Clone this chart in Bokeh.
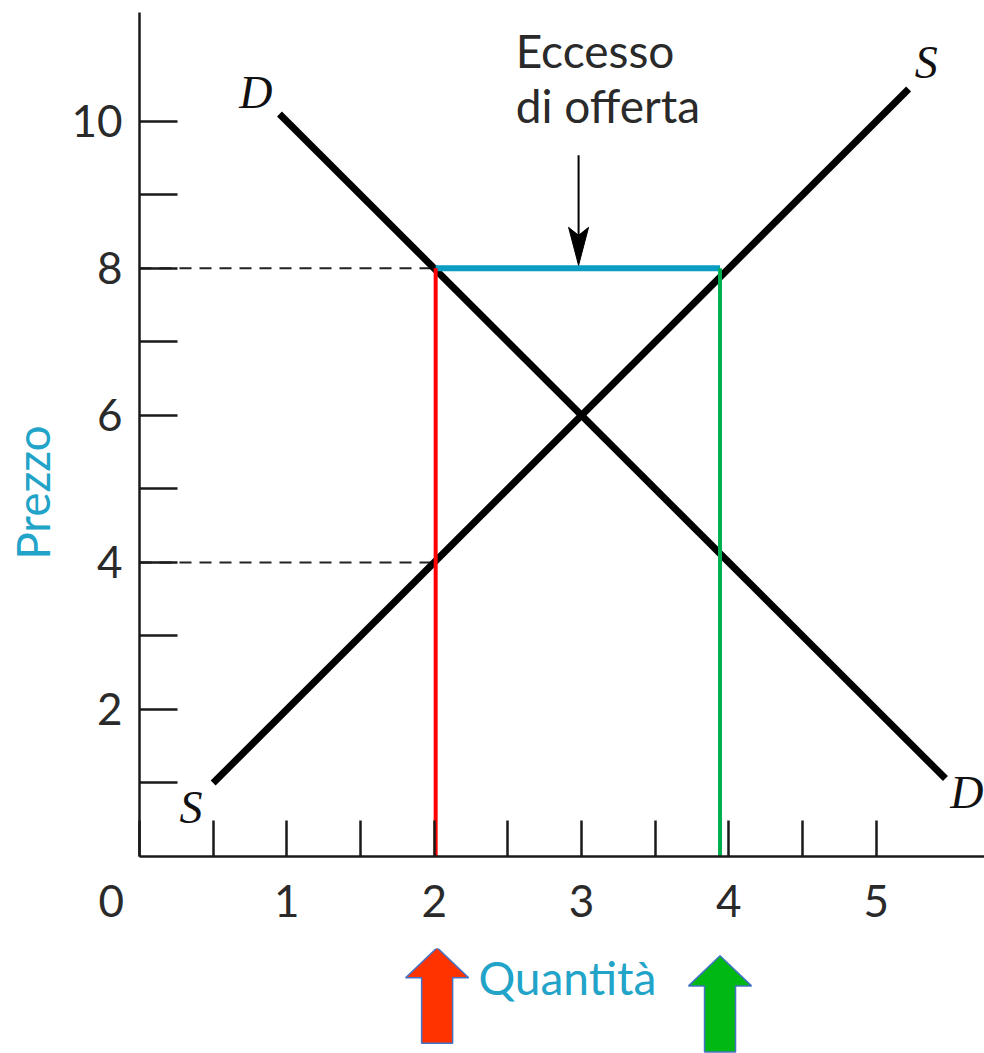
import math
from bokeh.plotting import figure
from bokeh.layouts import column, row
from bokeh.models import FixedTicker, Label, Range1d
from bokeh.core.properties import value
from bokeh.embed import file_html
from bokeh.resources import INLINE

# ---------------- data ----------------
demand_q = [0.95, 5.47]
demand_p = [10.1, 1.06]
supply_q = [0.5, 5.22]
supply_p = [1.0, 10.44]

price_high = 8
price_low = 4
qty_demanded = 2.01     # quantity demanded at price 8
qty_supplied = 3.94     # quantity supplied at price 8
excess_arrow_q = 2.98
excess_arrow_top = 9.54

y_ticks = [1, 2, 3, 4, 5, 6, 7, 8, 9, 10]
y_tick_labels = {1: "", 2: "2", 3: "", 4: "4", 5: "", 6: "6", 7: "", 8: "8", 9: "", 10: "10"}
x_ticks = [0, 0.5, 1, 1.5, 2, 2.5, 3, 3.5, 4, 4.5, 5]
x_tick_labels = {0: "0\u00a0\u00a0\u00a0\u00a0\u00a0", 0.5: "", 1: "1", 1.5: "", 2: "2",
                 2.5: "", 3: "3", 3.5: "", 4: "4", 4.5: "", 5: "5"}

curve_labels = ["D", "S", "S", "D"]
curve_label_q = [0.79, 5.34, 0.35, 5.615]
curve_label_p = [10.39, 10.8, 0.67, 0.87]

# bottom block arrows (centre quantity, tip, head base, bottom)
arrow_q = [2.02, 3.94]
arrow_tip = [-1.24, -1.35]
arrow_neck = [-1.65, -1.76]
arrow_bottom = [-2.54, -2.66]
arrow_colors = ["#FF3300", "#00B814"]

# ---------------- layout ----------------
TOTAL_W, TOTAL_H = 984, 1053
LEFT_W = 60                      # strip holding the y title
W = TOTAL_W - LEFT_W
FRAME_LEFT = 139                 # page x of the y axis
ML = FRAME_LEFT - LEFT_W
MT = 12
FRAME_BOTTOM = 856
MB1 = 92
H1 = FRAME_BOTTOM + MB1
H2 = TOTAL_H - H1
X_END = 5.735
Y_END = 11.48
px_x = (W - ML) / X_END
px_y = (FRAME_BOTTOM - MT) / Y_END

TXT = "#2a2a2a"
TEAL = "#22A3C8"
FONT = "Lato"

p = figure(width=W, height=H1, x_range=Range1d(0, X_END), y_range=Range1d(0, Y_END),
           output_backend="svg", toolbar_location=None,
           min_border_left=ML, min_border_right=0, min_border_top=MT,
           min_border_bottom=MB1)
p.outline_line_color = None
p.xgrid.visible = False
p.ygrid.visible = False

for ax in (p.xaxis[0], p.yaxis[0]):
    ax.axis_line_color = "#1a1a1a"
    ax.axis_line_width = 2.5
    ax.major_tick_line_color = "#1a1a1a"
    ax.major_tick_line_width = 2.5
    ax.minor_tick_line_color = None
    ax.major_tick_out = 0
    ax.major_label_text_font = FONT
    ax.major_label_text_font_size = "44px"
    ax.major_label_text_color = TXT

p.yaxis.ticker = FixedTicker(ticks=y_ticks)
p.yaxis.major_label_overrides = y_tick_labels
p.yaxis.major_tick_in = 38
p.yaxis.major_label_standoff = 17

p.xaxis.ticker = FixedTicker(ticks=x_ticks)
p.xaxis.major_label_overrides = x_tick_labels
p.xaxis.major_tick_in = 36
p.xaxis.major_label_standoff = 17

# dashed guides
for pr in (price_high, price_low):
    p.line([0, qty_demanded], [pr, pr], line_color="#222222", line_width=2,
           line_dash="12 8")

# demand & supply
p.line(demand_q, demand_p, line_color="black", line_width=7, line_cap="butt")
p.line(supply_q, supply_p, line_color="black", line_width=7, line_cap="butt")

# excess of supply segment and verticals
p.line([qty_demanded, qty_supplied], [price_high, price_high],
       line_color="#0B9DC4", line_width=6)
p.line([qty_demanded, qty_demanded], [0, price_high], line_color="#FF0000", line_width=4)
p.line([qty_supplied, qty_supplied], [0, price_high], line_color="#00B050", line_width=4)

# curve labels
p.text(x=curve_label_q, y=curve_label_p, text=curve_labels,
       text_font=value("Liberation Serif"), text_font_style="italic",
       text_font_size="46px", text_color="#111111",
       text_align="center", text_baseline="middle")

# annotation text + arrow
p.add_layout(Label(x=2.553, y=10.96, text="Eccesso", text_font=FONT,
                   text_font_size="46px", text_color=TXT,
                   text_align="left", text_baseline="alphabetic"))
p.add_layout(Label(x=2.553, y=10.21, text="di offerta", text_font=FONT,
                   text_font_size="46px", text_color=TXT,
                   text_align="left", text_baseline="alphabetic"))
head_len = 38 / px_y
head_notch = 30 / px_y
head_half = 10 / px_x
tip_y = price_high + 3 / px_y
p.line([excess_arrow_q, excess_arrow_q], [excess_arrow_top, tip_y + head_notch],
       line_color="black", line_width=2)
p.patch([excess_arrow_q, excess_arrow_q - head_half, excess_arrow_q,
         excess_arrow_q + head_half],
        [tip_y, tip_y + head_len, tip_y + head_notch, tip_y + head_len],
        fill_color="black", line_color="black", line_width=1)

# ---------------- lower strip: x title and block arrows ----------------
y2_top = (FRAME_BOTTOM - H1) / px_y
y2_bottom = (FRAME_BOTTOM - TOTAL_H) / px_y
p2 = figure(width=W, height=H2, x_range=p.x_range, y_range=Range1d(y2_bottom, y2_top),
            output_backend="svg", toolbar_location=None,
            x_axis_location=None, y_axis_location=None,
            min_border_left=ML, min_border_right=0, min_border_top=0, min_border_bottom=0)
p2.outline_line_color = None
p2.xgrid.visible = False
p2.ygrid.visible = False

p2.text(x=[2.30], y=[-1.64], text=["Quantità"], text_font=value(FONT),
        text_font_size="46px", text_color=TEAL, text_align="left",
        text_baseline="alphabetic")

hw_head = 31.5 / px_x
hw_shaft = 15.5 / px_x
for q, t, n, b, c in zip(arrow_q, arrow_tip, arrow_neck, arrow_bottom, arrow_colors):
    xs = [q, q + hw_head, q + hw_shaft, q + hw_shaft, q - hw_shaft, q - hw_shaft, q - hw_head]
    ys = [t, n, n, b, b, n, n]
    p2.patch(xs, ys, fill_color=c, line_color="#4472C4", line_width=1.5)

# ---------------- left strip: y title ----------------
pl = figure(width=LEFT_W, height=TOTAL_H,
            x_range=Range1d(0, LEFT_W),
            y_range=Range1d((FRAME_BOTTOM - TOTAL_H) / px_y, FRAME_BOTTOM / px_y),
            output_backend="svg", toolbar_location=None,
            x_axis_location=None, y_axis_location=None,
            min_border_left=0, min_border_right=0, min_border_top=0, min_border_bottom=0)
pl.outline_line_color = None
pl.xgrid.visible = False
pl.ygrid.visible = False
pl.text(x=[31.5], y=[4.95], text=["Prezzo"], angle=math.pi / 2,
        text_font=value(FONT), text_font_size="46px", text_color=TEAL,
        text_align="center", text_baseline="middle")

layout = row(pl, column(p, p2, spacing=0), spacing=0)
open("out.html", "w").write(file_html(layout, INLINE))
